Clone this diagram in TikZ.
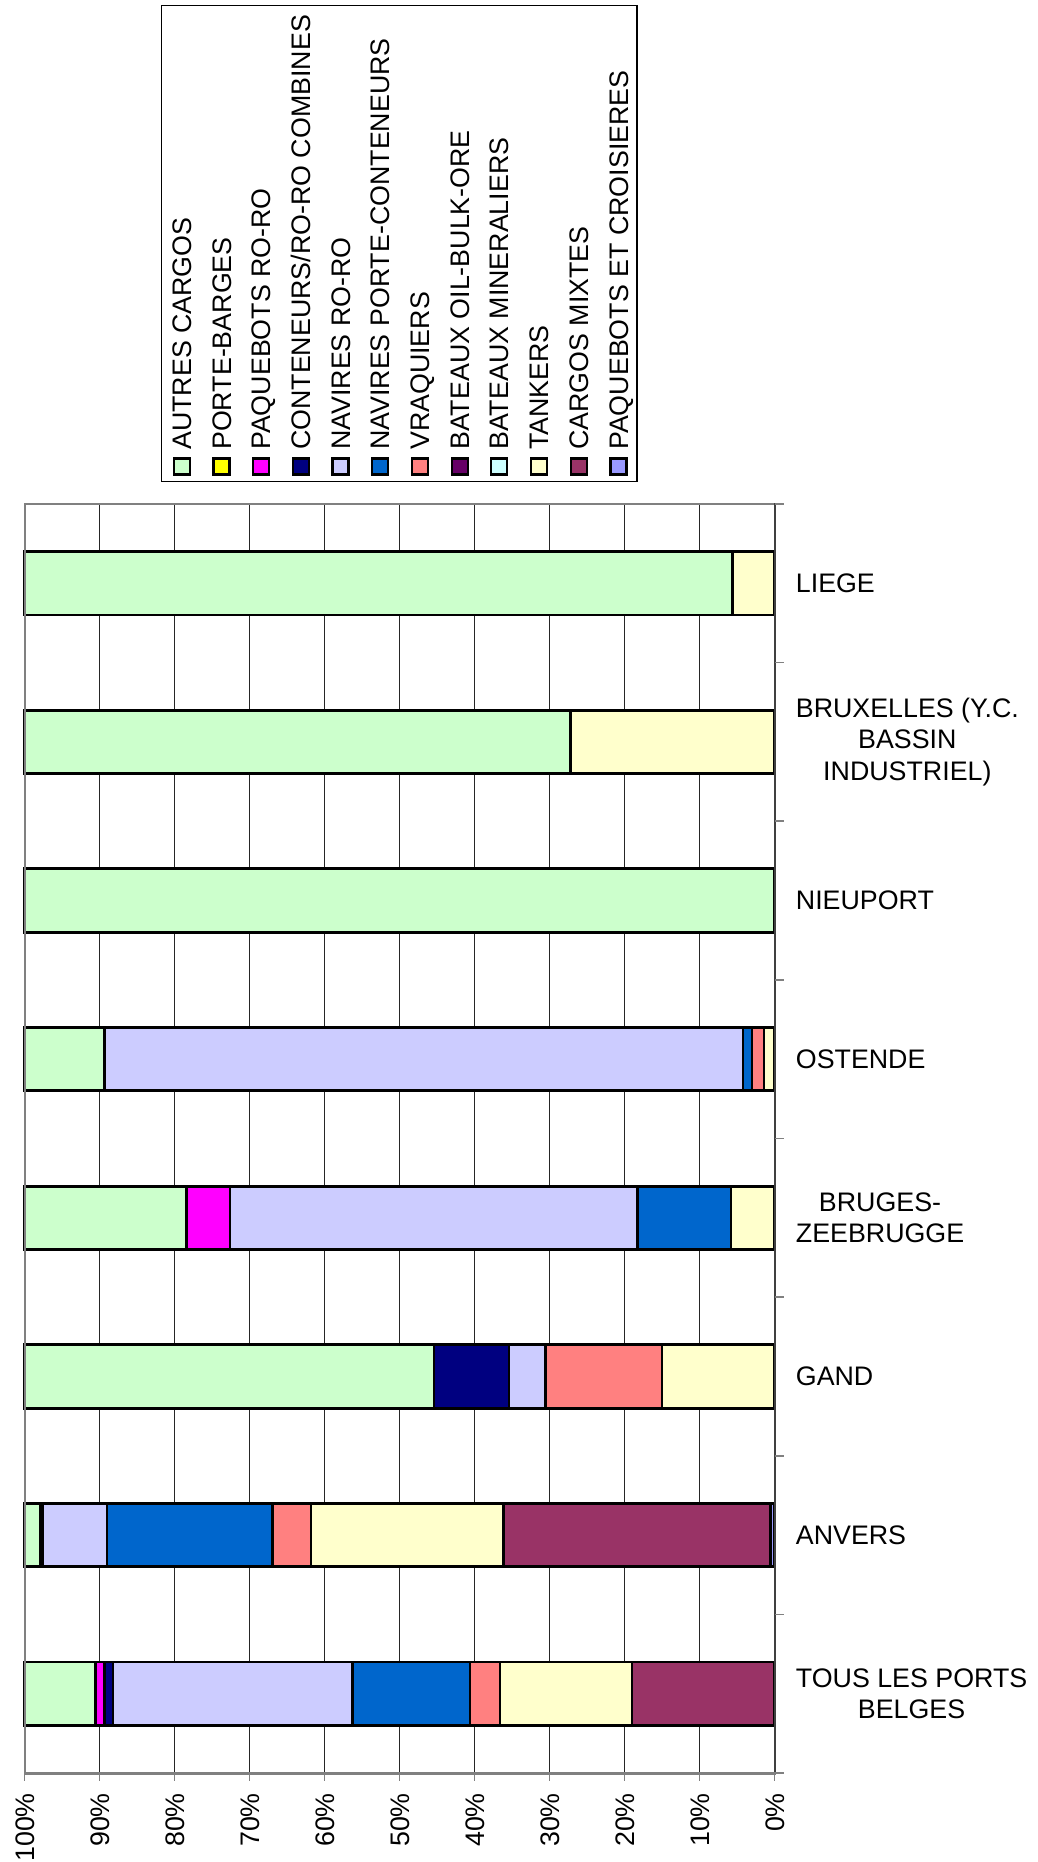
\documentclass[tikz,border=0pt]{standalone}
\usepackage{fontspec}
\setmainfont{Liberation Sans}
\definecolor{cAut}{HTML}{CCFFCC}
\definecolor{cBar}{HTML}{FFFF00}
\definecolor{cPrr}{HTML}{FF00FF}
\definecolor{cCom}{HTML}{000080}
\definecolor{cRoro}{HTML}{CCCCFF}
\definecolor{cPc}{HTML}{0066CC}
\definecolor{cVrq}{HTML}{FF8080}
\definecolor{cObo}{HTML}{660066}
\definecolor{cMin}{HTML}{CCFFFF}
\definecolor{cTnk}{HTML}{FFFFCC}
\definecolor{cMix}{HTML}{993366}
\definecolor{cCro}{HTML}{9999FF}
\definecolor{axgray}{HTML}{808080}
\newcommand\barseg[4]{%
  \pgfmathsetmacro\segyt{504+158.625*(#1+0.5)-31.7}%
  \pgfmathsetmacro\segyb{\segyt+63.4}%
  \draw[segbox, fill=#4] ({774.5-7.5*(#3)},\segyt) rectangle ({774.5-7.5*(#2)},\segyb);}
\tikzset{
  segbox/.style={draw=black, line width=2.8pt, line join=miter},
  gridln/.style={black!85, line width=1.1pt},
  lbl/.style={font=\fontsize{26.8}{31.6}\selectfont, inner sep=0pt},
  catlbl/.style={lbl, anchor=west, align=center},
  vertlbl/.style={lbl, rotate=90, text height=19.2pt, text depth=0pt},
  legsq/.style={draw=black, line width=2.2pt, minimum size=16pt, inner sep=0pt},
}
\begin{document}
\begin{tikzpicture}[x=1pt,y=-1pt]
\useasboundingbox[fill=white] (0,0) rectangle (1037,1862);

% legend
\draw[black, line width=1.3pt] (161.7,5.5) rectangle (637,481.7);
\foreach \c [count=\k from 0] in {cAut,cBar,cPrr,cCom,cRoro,cPc,cVrq,cObo,cMin,cTnk,cMix,cCro}
  \node[legsq, fill=\c] (sq\k) at ({181.7+39.7*\k},466.4) {};
\node[vertlbl, anchor=west] (leg0) at (181.7,450) {AUTRES CARGOS};
\node[vertlbl, anchor=west] (leg1) at (221.4,450) {PORTE-BARGES};
\node[vertlbl, anchor=west] (leg2) at (261.1,450) {PAQUEBOTS RO-RO};
\node[vertlbl, anchor=west] (leg3) at (300.8,450) {CONTENEURS/RO-RO COMBINES};
\node[vertlbl, anchor=west] (leg4) at (340.5,450) {NAVIRES RO-RO};
\node[vertlbl, anchor=west] (leg5) at (380.2,450) {NAVIRES PORTE-CONTENEURS};
\node[vertlbl, anchor=west] (leg6) at (419.9,450) {VRAQUIERS};
\node[vertlbl, anchor=west] (leg7) at (459.6,450) {BATEAUX OIL-BULK-ORE};
\node[vertlbl, anchor=west] (leg8) at (499.3,450) {BATEAUX MINERALIERS};
\node[vertlbl, anchor=west] (leg9) at (539.0,450) {TANKERS};
\node[vertlbl, anchor=west] (leg10) at (578.7,450) {CARGOS MIXTES};
\node[vertlbl, anchor=west] (leg11) at (618.4,450) {PAQUEBOTS ET CROISIERES};

% grid
\foreach \k in {0,...,10}
  \draw[gridln] ({24.5+75*\k},504) -- ({24.5+75*\k},1773);

% bars
\barseg{0}{5.6}{100}{cAut}
\barseg{0}{0}{5.6}{cTnk}
\barseg{1}{27.2}{100}{cAut}
\barseg{1}{0}{27.2}{cTnk}
\barseg{2}{0}{100}{cAut}
\barseg{3}{89.3}{100}{cAut}
\barseg{3}{4.2}{89.3}{cRoro}
\barseg{3}{3.0}{4.2}{cPc}
\barseg{3}{1.4}{3.0}{cVrq}
\barseg{3}{0}{1.4}{cTnk}
\barseg{4}{78.4}{100}{cAut}
\barseg{4}{72.6}{78.4}{cPrr}
\barseg{4}{18.3}{72.6}{cRoro}
\barseg{4}{5.8}{18.3}{cPc}
\barseg{4}{0}{5.8}{cTnk}
\barseg{5}{45.4}{100}{cAut}
\barseg{5}{35.4}{45.4}{cCom}
\barseg{5}{30.5}{35.4}{cRoro}
\barseg{5}{15.0}{30.5}{cVrq}
\barseg{5}{0}{15.0}{cTnk}
\barseg{6}{97.9}{100}{cAut}
\barseg{6}{97.6}{97.9}{cCom}
\barseg{6}{89.0}{97.6}{cRoro}
\barseg{6}{66.9}{89.0}{cPc}
\barseg{6}{61.8}{66.9}{cVrq}
\barseg{6}{36.1}{61.8}{cTnk}
\barseg{6}{0.5}{36.1}{cMix}
\barseg{6}{0}{0.5}{cCro}
\barseg{7}{90.5}{100}{cAut}
\barseg{7}{89.3}{90.5}{cPrr}
\barseg{7}{88.2}{89.3}{cCom}
\barseg{7}{56.3}{88.2}{cRoro}
\barseg{7}{40.6}{56.3}{cPc}
\barseg{7}{36.6}{40.6}{cVrq}
\barseg{7}{19.0}{36.6}{cTnk}
\barseg{7}{0}{19.0}{cMix}

% plot frame and axes
\draw[axgray, line width=2pt] (24.5,1773) -- (24.5,504) -- (774.5,504);
\draw[black!75, line width=2pt] (774.5,503) -- (774.5,1774);
\foreach \k in {0,...,8}
  \draw[axgray, line width=1.6pt] (774.5,{504+158.625*\k}) -- (784,{504+158.625*\k});
\draw[axgray, line width=3pt] (24.5,1773) -- (776,1773);
\foreach \k in {0,...,10}
  \draw[axgray, line width=1.6pt] ({24.5+75*\k},1773) -- ({24.5+75*\k},1781);

% value labels
\foreach \k [evaluate=\k as \p using int(100-10*\k)] in {0,...,10}
  \node[vertlbl, anchor=east] (pct\k) at ({24.5+75*\k},1793) {\p\%};

% category labels
\node[catlbl] (lab0) at (795.7,{504+158.625*0.5}) {LIEGE};
\node[catlbl] (lab1) at (795.7,{504+158.625*1.5}) {BRUXELLES (Y.C.\\BASSIN\\INDUSTRIEL)};
\node[catlbl] (lab2) at (795.7,{504+158.625*2.5}) {NIEUPORT};
\node[catlbl] (lab3) at (795.7,{504+158.625*3.5}) {OSTENDE};
\node[catlbl] (lab4) at (795.7,{504+158.625*4.5}) {BRUGES-\\ZEEBRUGGE};
\node[catlbl] (lab5) at (795.7,{504+158.625*5.5}) {GAND};
\node[catlbl] (lab6) at (795.7,{504+158.625*6.5}) {ANVERS};
\node[catlbl] (lab7) at (795.7,{504+158.625*7.5}) {TOUS LES PORTS\\BELGES};
\end{tikzpicture}
\end{document}
